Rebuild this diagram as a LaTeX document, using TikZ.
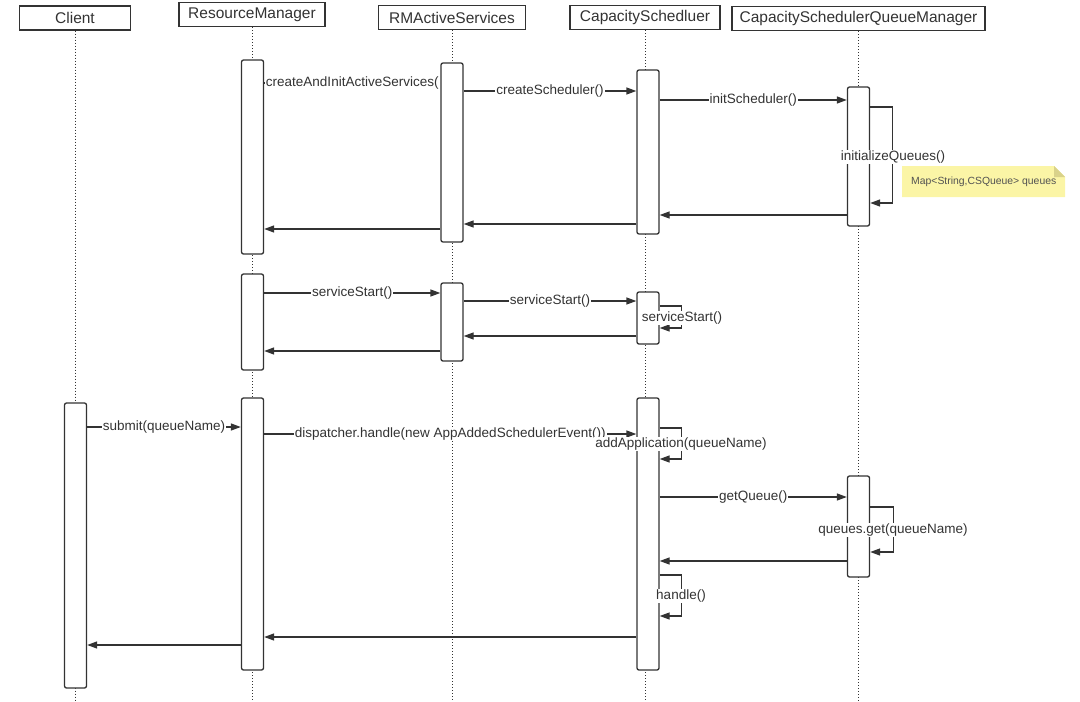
\documentclass[tikz,border=0pt]{standalone}
\usepackage{fontspec}
\setmainfont{Liberation Sans}
\usetikzlibrary{arrows.meta}
\definecolor{ink}{HTML}{333333}
\definecolor{notey}{HTML}{FBF5A6}
\definecolor{notef}{HTML}{D9D28A}
\tikzset{
  head/.style={draw=ink, line width=1.3pt, fill=white, minimum height=24pt, inner sep=0pt, font=\fontsize{15.5}{18}\selectfont, text=ink},
  bar/.style={draw=ink, line width=1.3pt, fill=white, rounded corners=2pt, minimum width=22pt, inner sep=0pt},
  life/.style={draw=ink, line width=1pt, dotted},
  msg/.style={draw=ink, line width=1.3pt, -{Triangle[length=10pt,width=7pt]}},
  lbl/.style={fill=white, inner sep=1pt, font=\fontsize{13.5}{16}\selectfont, text=ink},
}
\begin{document}
\begin{tikzpicture}[x=1pt,y=-1pt]
\useasboundingbox (0,0) rectangle (1080,702);
% headers
\node[head, minimum width=111pt] (client) at (75,18) {Client};
\node[head, minimum width=146pt] (rm) at (252,14.5) {ResourceManager};
\node[head, minimum width=147pt] (ra) at (452,17.5) {RMActiveServices};
\node[head, minimum width=150pt] (cs) at (645,17.5) {CapacitySchedluer};
\node[head, minimum width=253pt] (qm) at (858.5,18.5) {CapacitySchedulerQueueManager};
% lifelines
\draw[life] (client.south) -- (client.south |- 0,702);
\draw[life] (rm.south) -- (rm.south |- 0,702);
\draw[life] (ra.south) -- (ra.south |- 0,702);
\draw[life] (cs.south) -- (cs.south |- 0,702);
\draw[life] (qm.south) -- (qm.south |- 0,702);
% activation bars
\node[bar, minimum height=285pt] (cl1) at (75.5,545.5) {};
\node[bar, minimum height=194pt] (rm1) at (252.5,157) {};
\node[bar, minimum height=96pt] (rm2) at (252.5,322) {};
\node[bar, minimum height=272pt] (rm3) at (252.5,534) {};
\node[bar, minimum height=179pt] (ra1) at (452,152.5) {};
\node[bar, minimum height=78pt] (ra2) at (452,322) {};
\node[bar, minimum height=164pt] (cs1) at (648,152) {};
\node[bar, minimum height=52pt] (cs2) at (648,318) {};
\node[bar, minimum height=272pt] (cs3) at (648,534) {};
\node[bar, minimum height=139pt] (qm1) at (858.5,156.5) {};
\node[bar, minimum height=101pt] (qm2) at (858.5,526.5) {};
% group 1
\draw[msg] (rm1.east |- 0,83) -- node[lbl] (m1) {createAndInitActiveServices(} (ra1.west |- 0,83);
\draw[msg] (ra1.east |- 0,91) -- node[lbl] (m2) {createScheduler()} (cs1.west |- 0,91);
\draw[msg] (cs1.east |- 0,100) -- node[lbl] (m3) {initScheduler()} (qm1.west |- 0,100);
\draw[msg] (qm1.east |- 0,107) -- ++(22,0) |- (qm1.east |- 0,203);
\node[lbl] (m4) at (893,157) {initializeQueues()};
\draw[msg] (qm1.west |- 0,215) -- (cs1.east |- 0,215);
\draw[msg] (cs1.west |- 0,224) -- (ra1.east |- 0,224);
\draw[msg] (ra1.west |- 0,229) -- (rm1.east |- 0,229);
% note
\fill[notey] (902,166) -- (1054,166) -- (1065,177) -- (1065,197) -- (902,197) -- cycle;
\fill[notef] (1054,166) -- (1065,177) -- (1054,177) -- cycle;
\node[font=\fontsize{10.4}{12}\selectfont, text=ink!85, anchor=west, inner sep=0pt] (note) at (911,181.5) {Map<String,CSQueue> queues};
% group 2
\draw[msg] (rm2.east |- 0,293) -- node[lbl] (m5) {serviceStart()} (ra2.west |- 0,293);
\draw[msg] (ra2.east |- 0,301) -- node[lbl] (m6) {serviceStart()} (cs2.west |- 0,301);
\draw[msg] (cs2.east |- 0,306) -- ++(22,0) |- (cs2.east |- 0,328);
\node[lbl] (m7) at (682,318) {serviceStart()};
\draw[msg] (cs2.west |- 0,336) -- (ra2.east |- 0,336);
\draw[msg] (ra2.west |- 0,351) -- (rm2.east |- 0,351);
% group 3
\draw[msg] (cl1.east |- 0,427) -- node[lbl] (m8) {submit(queueName)} (rm3.west |- 0,427);
\draw[msg] (rm3.east |- 0,434) -- node[lbl] (m9) {dispatcher.handle(new AppAddedSchedulerEvent())} (cs3.west |- 0,434);
\draw[msg] (cs3.east |- 0,428) -- ++(22,0) |- (cs3.east |- 0,459);
\node[lbl] (m10) at (681,444) {addApplication(queueName)};
\draw[msg] (cs3.east |- 0,497) -- node[lbl] (m11) {getQueue()} (qm2.west |- 0,497);
\draw[msg] (qm2.east |- 0,507) -- ++(23,0) |- (qm2.east |- 0,552);
\node[lbl] (m12) at (893,530) {queues.get(queueName)};
\draw[msg] (qm2.west |- 0,561) -- (cs3.east |- 0,561);
\draw[msg] (cs3.east |- 0,575) -- ++(22,0) |- (cs3.east |- 0,616);
\node[lbl] (m13) at (681,596) {handle()};
\draw[msg] (cs3.west |- 0,637) -- (rm3.east |- 0,637);
\draw[msg] (rm3.west |- 0,645) -- (cl1.east |- 0,645);
\end{tikzpicture}
\end{document}
